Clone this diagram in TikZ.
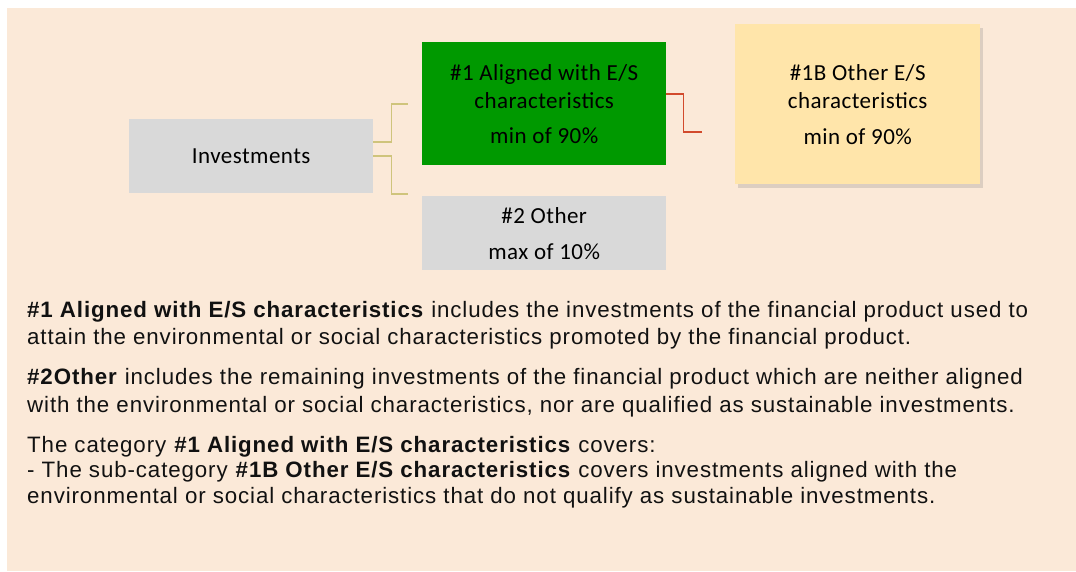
\documentclass[tikz,border=0pt]{standalone}
\usepackage{fontspec}
\setmainfont{Liberation Sans}[LetterSpace=4]
\newfontfamily\boxfont{Carlito}[LetterSpace=2]
\usetikzlibrary{shadows}
\definecolor{bgpeach}{HTML}{FBE9D8}
\definecolor{boxgray}{HTML}{D9D9D9}
\definecolor{boxgreen}{HTML}{009900}
\definecolor{boxyellow}{HTML}{FFE5AA}
\definecolor{tanline}{HTML}{CFC47C}
\definecolor{redline}{HTML}{D24A2C}
\definecolor{txt}{HTML}{111111}
\begin{document}
\begin{tikzpicture}[x=1pt,y=-1pt,
  diabox/.style={rectangle, inner sep=0pt, minimum width=244pt, anchor=north west,
    font=\boxfont\fontsize{23}{28}\selectfont, align=center, text=black},
  tanconn/.style={draw=tanline, line width=1.5pt},
  redconn/.style={draw=redline, line width=1.5pt},
  bodyline/.style={anchor=base west, inner sep=0pt, text=txt, font=\fontsize{22.3}{27}\selectfont}]
\useasboundingbox (0,0) rectangle (1076,571);
\fill[white] (0,0) rectangle (1076,571);
\fill[bgpeach] (7,8) rectangle (1076,571);

\node[diabox, fill=boxgray, minimum height=74pt] (inv) at (129,119) {Investments};
\node[diabox, fill=boxgreen, minimum height=123pt] (al) at (422,42) {\#1 Aligned with E/S\\characteristics\\[7pt]min of 90\%};
\node[diabox, fill=boxgray, minimum height=74pt] (oth) at (422,196) {\#2 Other\\[8pt]max of 10\%};
\node[diabox, fill=boxyellow, minimum width=245pt, minimum height=160pt,
  drop shadow={shadow xshift=3pt, shadow yshift=-4pt, opacity=0.25}] (es) at (735,24) {\#1B Other E/S\\characteristics\\[8pt]min of 90\%};

\coordinate (alin) at (408,104);
\coordinate (othin) at (408,194);
\coordinate (esin) at (702,132);
\draw[tanconn] ([yshift=14pt]inv.east) -- ++(18,0) |- (alin);
\draw[tanconn] (inv.east) -- ++(18,0) |- (othin);
\draw[redconn] ([yshift=9.5pt]al.east) -- ++(17,0) |- (esin);

\node[bodyline] (p1a) at (27,317) {\textbf{\#1 Aligned with E/S characteristics} includes the investments of the financial product used to};
\node[bodyline] (p1b) at (27,344) {attain the environmental or social characteristics promoted by the financial product.};
\node[bodyline] (p2a) at (27,384) {\textbf{\#2Other} includes the remaining investments of the financial product which are neither aligned};
\node[bodyline] (p2b) at (27,412) {with the environmental or social characteristics, nor are qualified as sustainable investments.};
\node[bodyline] (p3a) at (27,452) {The category \textbf{\#1 Aligned with E/S characteristics} covers:};
\node[bodyline] (p3b) at (27,477) {- The sub-category \textbf{\#1B Other E/S characteristics} covers investments aligned with the};
\node[bodyline] (p3c) at (27,503) {environmental or social characteristics that do not qualify as sustainable investments.};
\end{tikzpicture}
\end{document}
